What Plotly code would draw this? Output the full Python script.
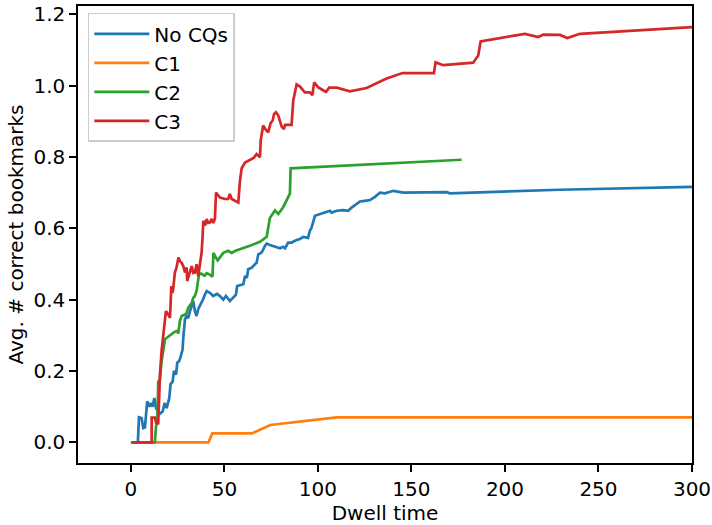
import plotly.graph_objects as go

# ---- data ----
noq_x = [0, 3.7, 4.3, 5.7, 6.6, 7.5, 8.7, 9.8, 10.7, 11.6, 12.5, 13.4, 14.4, 15.5, 17.0, 18.0, 19.1, 20.5,
         21.2, 22.3, 23.0, 24.1, 24.8, 25.8, 26.6, 27.6, 28.0, 28.3, 28.9, 29.8, 30.6, 31.6, 32.5, 33.3,
         34.2, 35.1, 36.0, 36.9, 38.5, 39.6, 40.5, 42.2, 44.0, 46.0, 47.6, 49.4, 50.8, 52.9, 54.7, 56.1,
         56.8, 58.3, 60.1, 61.0, 62.0, 62.7, 64.5, 66.3, 67.2, 68.1, 69.9, 71.7, 72.6, 74.3, 77.9, 79.7,
         81.4, 82.4, 84.1, 85.9, 88.6, 90.4, 92.1, 94.7, 95.7, 96.6, 98.4, 101.1, 104.7, 106.4, 107.3,
         110.0, 113.5, 116.2, 118.0, 120.7, 122.5, 125.1, 127.8, 130.5, 133.2, 135.8, 140.3, 145.6,
         168.8, 170.6, 229.4, 300.0, 330.0]
noq_y = [0, 0, 0.07, 0.068, 0.04, 0.042, 0.115, 0.10, 0.11, 0.10, 0.124, 0.096, 0.087, 0.08, 0.087, 0.11,
         0.096, 0.124, 0.163, 0.17, 0.2, 0.19, 0.223, 0.228, 0.24, 0.26, 0.293, 0.31, 0.345, 0.354, 0.348,
         0.368, 0.382, 0.396, 0.368, 0.354, 0.374, 0.382, 0.40, 0.415, 0.424, 0.419, 0.41, 0.416, 0.41,
         0.40, 0.41, 0.396, 0.405, 0.413, 0.438, 0.441, 0.443, 0.466, 0.461, 0.485, 0.489, 0.499, 0.503,
         0.527, 0.532, 0.551, 0.557, 0.553, 0.548, 0.544, 0.548, 0.544, 0.56, 0.56, 0.567, 0.57, 0.576,
         0.573, 0.593, 0.602, 0.635, 0.64, 0.646, 0.649, 0.644, 0.649, 0.651, 0.649, 0.658, 0.669, 0.675,
         0.677, 0.679, 0.688, 0.70, 0.698, 0.705, 0.70, 0.701, 0.698, 0.708, 0.716, 0.72]

c1_x = [0, 41.5, 43.5, 64.7, 74.5, 110.0, 300.0, 330.0]
c1_y = [0, 0, 0.025, 0.025, 0.0485, 0.07, 0.07, 0.07]

c2_x = [0, 12.8, 13.4, 14.1, 14.6, 15.5, 16.4, 17.3, 18.2, 19.9, 21.8, 23.5, 24.8, 25.3, 26.2, 27.1, 28.9,
        29.8, 30.6, 31.6, 32.5, 33.3, 34.2, 35.1, 35.7, 36.4, 37.4, 39.4, 40.5, 42.2, 43.6, 44.1, 45.5,
        46.4, 49.4, 52.0, 53.9, 55.6, 63.6, 69.0, 72.6, 74.3, 77.0, 78.8, 81.4, 85.0, 85.4, 176.8]
c2_y = [0, 0, 0.045, 0.054, 0.17, 0.176, 0.227, 0.256, 0.289, 0.296, 0.303, 0.31, 0.312, 0.305, 0.34,
        0.354, 0.358, 0.363, 0.377, 0.386, 0.39, 0.405, 0.41, 0.424, 0.443, 0.471, 0.473, 0.467, 0.474,
        0.47, 0.464, 0.531, 0.517, 0.51, 0.531, 0.537, 0.531, 0.536, 0.551, 0.562, 0.576, 0.629, 0.65,
        0.64, 0.659, 0.697, 0.768, 0.792]

c3_x = [1.0, 11.1, 11.1, 12.8, 13.5, 14.6, 15.1, 15.5, 16.4, 17.3, 18.7, 19.5, 19.9, 20.9, 21.6, 22.1,
        22.6, 23.0, 23.5, 24.4, 25.4, 26.2, 27.1, 28.0, 28.9, 29.8, 30.1, 30.7, 31.6, 32.5, 33.3, 34.2,
        35.1, 36.0, 36.9, 37.8, 38.3, 38.7, 39.6, 40.5, 41.3, 42.2, 43.2, 44.0, 44.9, 45.5, 46.1, 47.6,
        50.3, 52.0, 52.9, 53.9, 55.6, 57.4, 58.3, 59.2, 61.0, 63.6, 65.8, 67.2, 68.2, 69.0, 69.4, 70.7,
        71.7, 72.6, 73.4, 74.7, 75.8, 76.5, 77.5, 78.8, 79.7, 80.6, 81.8, 82.4, 85.9, 86.8, 88.6, 90.4,
        93.0, 95.7, 97.0, 98.0, 100.2, 101.1, 102.1, 104.3, 106.0, 110.0, 117.1, 126.0, 136.4, 145.2,
        162.0, 162.9, 167.0, 183.0, 185.7, 187.0, 210.7, 217.8, 220.5, 229.4, 233.3, 240.1, 299.8, 320.0]
c3_y = [0, 0, 0.069, 0.069, 0.054, 0.054, 0.124, 0.19, 0.256, 0.298, 0.368, 0.362, 0.359, 0.349, 0.438,
        0.419, 0.43, 0.452, 0.476, 0.49, 0.518, 0.508, 0.503, 0.494, 0.476, 0.49, 0.452, 0.463, 0.476,
        0.494, 0.475, 0.476, 0.499, 0.466, 0.499, 0.532, 0.574, 0.621, 0.607, 0.626, 0.615, 0.616, 0.626,
        0.615, 0.626, 0.70, 0.696, 0.686, 0.682, 0.682, 0.696, 0.682, 0.677, 0.672, 0.733, 0.768, 0.784,
        0.791, 0.798, 0.808, 0.802, 0.799, 0.846, 0.888, 0.879, 0.874, 0.869, 0.895, 0.902, 0.92, 0.925,
        0.916, 0.902, 0.885, 0.878, 0.89, 0.89, 0.958, 1.003, 0.997, 0.981, 0.981, 0.973, 1.009, 0.995,
        0.993, 0.989, 0.982, 0.994, 0.994, 0.984, 0.993, 1.019, 1.035, 1.035, 1.065, 1.057, 1.064, 1.084,
        1.124, 1.145, 1.136, 1.143, 1.142, 1.133, 1.145, 1.166, 1.17]

series_names = ["No CQs", "C1", "C2", "C3"]
colors = ["#1f77b4", "#ff7f0e", "#2ca02c", "#d62728"]
x_ticks = [0, 50, 100, 150, 200, 250, 300]
y_ticks = [0.0, 0.2, 0.4, 0.6, 0.8, 1.0, 1.2]

FONT = "DejaVu Sans"

fig = go.Figure()
for name, xs, ys, col in zip(series_names, [noq_x, c1_x, c2_x, c3_x], [noq_y, c1_y, c2_y, c3_y], colors):
    fig.add_trace(go.Scatter(x=xs, y=ys, mode="lines", name=name,
                             line=dict(color=col, width=2.7)))

axis_common = dict(showline=True, linecolor="black", linewidth=1.5, mirror=True,
                   ticks="outside", ticklen=7, tickwidth=1.5, tickcolor="black",
                   showgrid=False, zeroline=False, automargin=False,
                   tickfont=dict(family=FONT, size=20, color="black"))

fig.update_xaxes(range=[-28.3, 300], tickvals=x_ticks, ticktext=[str(v) for v in x_ticks],
                 title=dict(text="Dwell time", font=dict(family=FONT, size=20, color="black"), standoff=3),
                 **axis_common)
fig.update_yaxes(range=[-0.058, 1.223], tickvals=y_ticks, ticktext=[f"{v:.1f}" for v in y_ticks],
                 title=dict(text="Avg. # correct bookmarks", font=dict(family=FONT, size=20, color="black"), standoff=4),
                 **axis_common)

fig.update_layout(
    width=712, height=525,
    margin=dict(l=78, r=20, t=6, b=62),
    plot_bgcolor="white", paper_bgcolor="white",
    font=dict(family=FONT, size=20, color="black"),
    legend=dict(x=0.016, y=0.985, xanchor="left", yanchor="top",
                bgcolor="rgba(255,255,255,0.9)", bordercolor="#cccccc", borderwidth=1.5,
                font=dict(family=FONT, size=20, color="black"),
                tracegroupgap=0, itemwidth=55),
    showlegend=True,
)

fig.write_html("out.html")
